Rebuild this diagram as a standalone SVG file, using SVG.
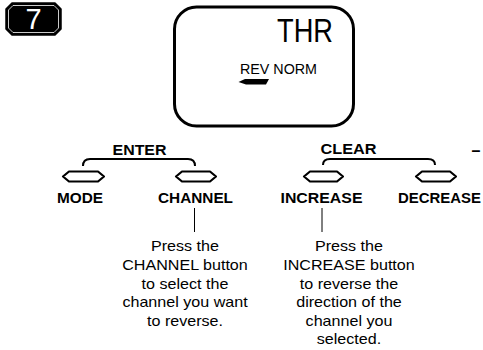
<svg xmlns="http://www.w3.org/2000/svg" width="483" height="350" viewBox="0 0 483 350">
<style>
text{font-family:"Liberation Sans",Arial,sans-serif;fill:#000}
.lbl{font-size:14px;font-weight:bold;text-anchor:middle}
.note{font-size:14px;text-anchor:middle}
.btn{fill:#fff;stroke:#000;stroke-width:2.2;stroke-linejoin:round}
.br{fill:none;stroke:#000;stroke-width:2}
.ln{stroke:#000;stroke-width:1}
</style>
<g id="badge">
<path d="M12,3 H55 L61,9 V29 L55,35 H12 L6,29 V9 Z" fill="#000" stroke="#000" stroke-width="1.5" stroke-linejoin="round"/>
<path d="M13,5.5 H54 L58.5,10 V28 L54,32.5 H13 L8.5,28 V10 Z" fill="none" stroke="#fff" stroke-width="0.8"/>
<text x="33.5" y="29" style="font-size:29px;fill:#fff;text-anchor:middle">7</text>
</g>
<g id="lcd">
<rect x="174.5" y="7" width="179" height="119" rx="22" ry="22" fill="#fff" stroke="#000" stroke-width="3"/>
<text x="277" y="42" style="font-size:33px" textLength="56" lengthAdjust="spacingAndGlyphs">THR</text>
<text x="240" y="74" style="font-size:15.5px" textLength="77" lengthAdjust="spacingAndGlyphs">REV NORM</text>
<path d="M238.5,82 L245,79 H269 L266,84.5 H246 Z" fill="#000"/>
</g>
<g id="connectors">
<path class="br" d="M83,166 Q83,159 90,159 H188 Q195,159 195,166"/>
<path class="br" d="M323,165 Q323,159 330,159 H428 Q435,159 435,165"/>
<line class="ln" x1="194.5" y1="208" x2="194.5" y2="232"/>
<line class="ln" x1="322" y1="208" x2="322" y2="232"/>
</g>
<g id="enter">
<text class="lbl" x="139.5" y="155" textLength="54" lengthAdjust="spacingAndGlyphs">ENTER</text>
</g>
<g id="clear">
<text class="lbl" x="348.5" y="154" textLength="56" lengthAdjust="spacingAndGlyphs">CLEAR</text>
<text class="lbl" x="476" y="156" style="font-size:16px">–</text>
</g>
<g id="mode">
<path class="btn" d="M63,176.5 L69,171.5 H98 L104,176.5 L98,181.5 H69 Z"/>
<text class="lbl" x="80" y="203" textLength="46" lengthAdjust="spacingAndGlyphs">MODE</text>
</g>
<g id="channel">
<path class="btn" d="M176,176.5 L182,171.5 H210 L216,176.5 L210,181.5 H182 Z"/>
<text class="lbl" x="195.5" y="203" textLength="75" lengthAdjust="spacingAndGlyphs">CHANNEL</text>
</g>
<g id="increase">
<path class="btn" d="M304,176.5 L310,171.5 H337 L343,176.5 L337,181.5 H310 Z"/>
<text class="lbl" x="321.5" y="203" textLength="82" lengthAdjust="spacingAndGlyphs">INCREASE</text>
</g>
<g id="decrease">
<path class="btn" d="M416,176.5 L422,171.5 H450 L456,176.5 L450,181.5 H422 Z"/>
<text class="lbl" x="439.5" y="203" textLength="83" lengthAdjust="spacingAndGlyphs">DECREASE</text>
</g>
<g id="note-channel" transform="translate(185,0) scale(1.15,1)">
<text class="note" x="0" y="251">Press the</text>
<text class="note" x="0" y="270">CHANNEL button</text>
<text class="note" x="0" y="289">to select the</text>
<text class="note" x="0" y="307.5">channel you want</text>
<text class="note" x="0" y="326">to reverse.</text>
</g>
<g id="note-increase" transform="translate(349,0) scale(1.15,1)">
<text class="note" x="0" y="251">Press the</text>
<text class="note" x="0" y="270">INCREASE button</text>
<text class="note" x="0" y="289">to reverse the</text>
<text class="note" x="0" y="307.5">direction of the</text>
<text class="note" x="0" y="326">channel you</text>
<text class="note" x="0" y="344.5">selected.</text>
</g>
</svg>
